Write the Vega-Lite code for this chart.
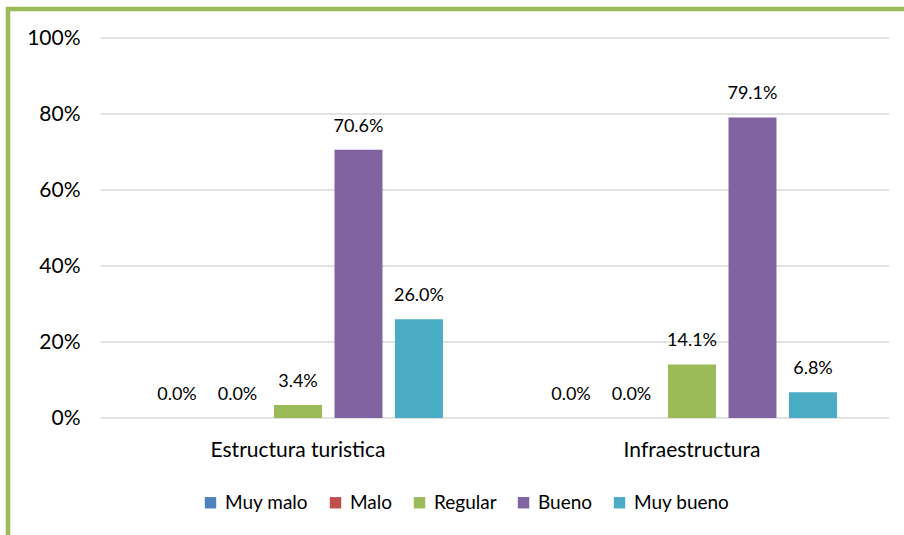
{
  "$schema": "https://vega.github.io/schema/vega-lite/v6.json",
  "autosize": {"type": "none"},
  "padding": {"left": 8, "top": 9, "right": 0, "bottom": 0},
  "width": 906,
  "height": 536,
  "background": "white",
  "config": {
    "font": "Lato",
    "view": {"stroke": "#9BBB59", "strokeWidth": 4.5}
  },
  "data": {
    "values": [
      {"grupo": "Estructura turistica", "categoria": "Muy malo", "valor": 0},
      {"grupo": "Estructura turistica", "categoria": "Malo", "valor": 0},
      {"grupo": "Estructura turistica", "categoria": "Regular", "valor": 0.034},
      {"grupo": "Estructura turistica", "categoria": "Bueno", "valor": 0.706},
      {"grupo": "Estructura turistica", "categoria": "Muy bueno", "valor": 0.26},
      {"grupo": "Infraestructura", "categoria": "Muy malo", "valor": 0},
      {"grupo": "Infraestructura", "categoria": "Malo", "valor": 0},
      {"grupo": "Infraestructura", "categoria": "Regular", "valor": 0.141},
      {"grupo": "Infraestructura", "categoria": "Bueno", "valor": 0.791},
      {"grupo": "Infraestructura", "categoria": "Muy bueno", "valor": 0.068}
    ]
  },
  "layer": [
    {
      "data": {"values": [{"v": 0}, {"v": 0.2}, {"v": 0.4}, {"v": 0.6}, {"v": 0.8}, {"v": 1}]},
      "mark": {"type": "rule", "color": "#D9D9D9", "strokeWidth": 1.3},
      "encoding": {
        "y": {"field": "v", "type": "quantitative", "title": null},
        "x": {"datum": "Estructura turistica", "type": "nominal", "bandPosition": 0, "title": null},
        "x2": {"datum": "Infraestructura", "bandPosition": 1}
      }
    },
    {
      "mark": {"type": "bar"},
      "encoding": {
        "x": {
          "field": "grupo", "type": "nominal", "title": null,
          "sort": ["Estructura turistica", "Infraestructura"],
          "scale": {"range": [93, 881], "paddingInner": 0, "paddingOuter": 0},
          "axis": {"orient": "bottom", "offset": -127, "bandPosition": 0.5, "domain": false, "ticks": false, "labelAngle": 0, "labelAlign": "center", "labelFontSize": 21, "labelColor": "#000000", "labelPadding": 32}
        },
        "xOffset": {
          "field": "categoria", "type": "nominal",
          "sort": ["Muy malo", "Malo", "Regular", "Bueno", "Muy bueno"],
          "scale": {"paddingInner": 0.207, "paddingOuter": 0.86}
        },
        "y": {
          "field": "valor", "type": "quantitative", "title": null,
          "scale": {"domain": [0, 1], "range": [409, 29], "nice": false, "zero": true},
          "axis": {"orient": "left", "offset": -93, "values": [0, 0.2, 0.4, 0.6, 0.8, 1], "format": ".0%", "domain": false, "ticks": false, "grid": false, "labelFontSize": 21, "labelColor": "#000000", "labelPadding": 21}
        },
        "color": {
          "field": "categoria", "type": "nominal",
          "sort": ["Muy malo", "Malo", "Regular", "Bueno", "Muy bueno"],
          "scale": {"domain": ["Muy malo", "Malo", "Regular", "Bueno", "Muy bueno"], "range": ["#4F81BD", "#C0504D", "#9BBB59", "#8064A2", "#4BACC6"]},
          "legend": {"orient": "none", "legendX": 193, "legendY": 484, "direction": "horizontal", "title": null, "padding": 0, "symbolType": "square", "symbolSize": 130, "symbolStrokeWidth": 0, "labelFontSize": 19, "labelColor": "#000000", "labelOffset": 5, "columnPadding": 17}
        }
      }
    },
    {
      "mark": {"type": "text", "baseline": "alphabetic", "dy": -18, "fontSize": 18, "color": "#000000"},
      "encoding": {
        "x": {"field": "grupo", "type": "nominal", "sort": ["Estructura turistica", "Infraestructura"]},
        "xOffset": {"field": "categoria", "type": "nominal", "sort": ["Muy malo", "Malo", "Regular", "Bueno", "Muy bueno"]},
        "y": {"field": "valor", "type": "quantitative"},
        "text": {"field": "valor", "type": "quantitative", "format": ".1%"}
      }
    }
  ]
}
